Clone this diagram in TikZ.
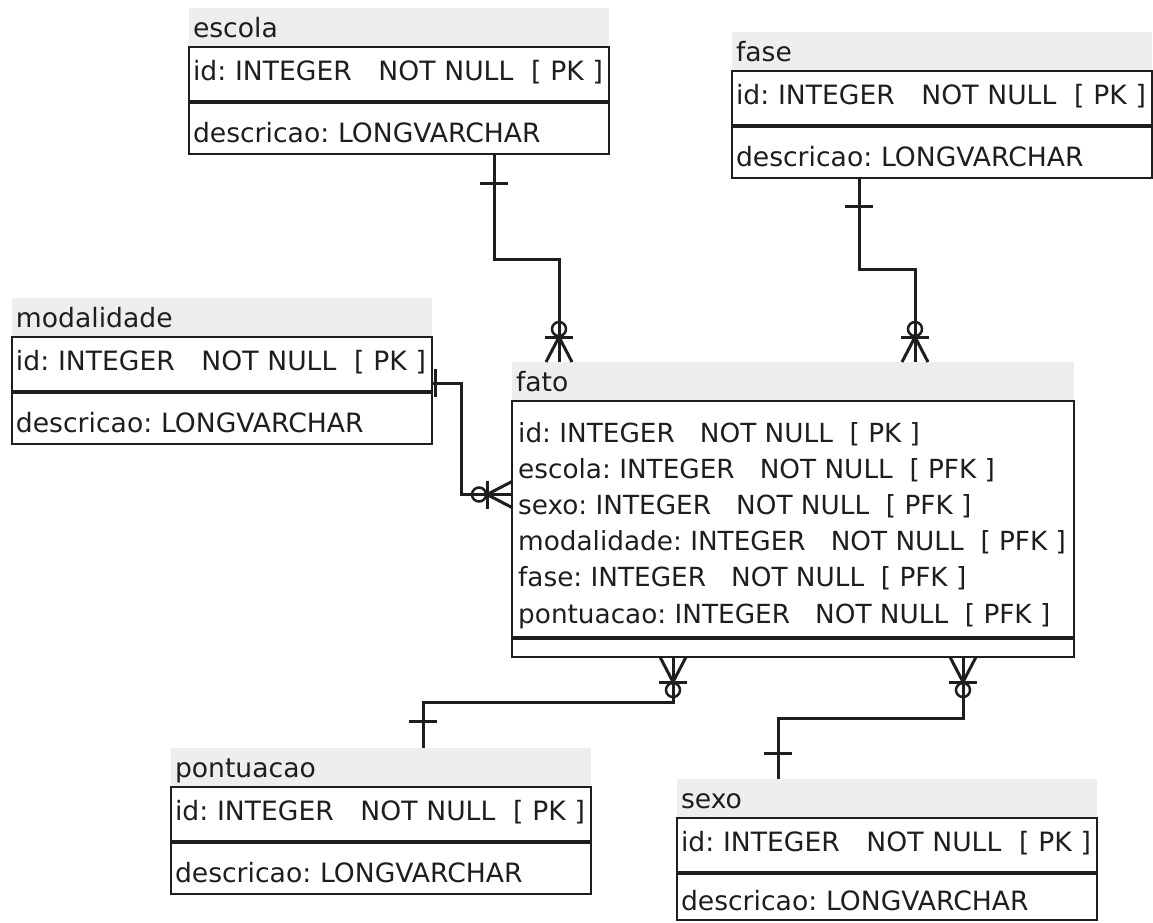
\documentclass[tikz,border=0pt]{standalone}
\usepackage{fontspec}
\setmainfont{DejaVu Sans}
\usepackage{xcolor}
\usepackage{tikz}
\usetikzlibrary{positioning}

\definecolor{headgray}{HTML}{EEEEEE}
\definecolor{inkgray}{HTML}{1E1E1E}

\newcommand{\tabfont}{\fontsize{26.6}{36.2}\selectfont\frenchspacing}
\newcommand{\factfont}{\fontsize{26.3}{36.2}\selectfont\frenchspacing}

\tikzset{
    tabhead/.style={fill=headgray, anchor=north west, text width=412pt,
        inner xsep=4pt, inner ysep=0pt, outer sep=0pt, minimum height=39pt,
        text height=20pt, text depth=1pt, align=left, font=\tabfont, text=inkgray},
    tabrow/.style={draw=inkgray, line width=2pt, text width=412pt,
        inner xsep=4pt, inner ysep=0pt, outer sep=0pt, align=left,
        font=\tabfont, text=inkgray},
    keyrow/.style={tabrow, minimum height=55pt, text height=20pt, text depth=9pt},
    descrow/.style={tabrow, minimum height=52pt, text height=28pt, text depth=0pt},
    sepline/.style={draw=inkgray, line width=4pt},
    link/.style={draw=inkgray, line width=3pt},
    pics/onebar/.style={code={\draw[link] (-14,-#1) -- (14,-#1);}},
    pics/crowopt/.style={code={
        \draw[link] (-13,0) -- (0,-25) -- (13,0);
        \draw[link] (-14,-25) -- (14,-25);
        \draw[inkgray, line width=2.5pt] (0,-33) circle (7);
    }}
}

\begin{document}
\begin{tikzpicture}[x=1pt, y=-1pt]

% Page frame
\useasboundingbox (0,0) rectangle (1153,922);

% Dimension tables
\foreach \name/\px/\py/\dh in {escola/189/8/52, fase/732/32/52,
    modalidade/12/298/52, pontuacao/171/748/52, sexo/677/779/47} {
    \node[tabhead] (\name) at (\px,\py) {\name};
    \node[keyrow, below=0pt of \name] (\name-id)
        {\mbox{id: INTEGER\ \ \ NOT NULL\ \ [ PK ]}};
    \node[descrow, minimum height=\dh pt, below=0pt of \name-id] (\name-desc)
        {descricao: LONGVARCHAR};
    \draw[sepline] (\name-id.south west) -- (\name-id.south east);
}

% Fact table
\node[tabhead, text width=554pt] (fato) at (512,362) {fato};
\node[tabrow, text width=554pt, minimum height=237pt, below=0pt of fato] (fato-body) {};
\node[tabrow, text width=554pt, minimum height=19pt, below=0pt of fato-body] (fato-foot) {};
\draw[sepline] (fato-body.south west) -- (fato-body.south east);
\node[anchor=north west, inner sep=0pt, align=left, font=\factfont, text=inkgray]
    (fato-cols) at ([shift={(6,21)}]fato-body.north west)
    {id: INTEGER\ \ \ NOT NULL\ \ [ PK ]\\
     escola: INTEGER\ \ \ NOT NULL\ \ [ PFK ]\\
     sexo: INTEGER\ \ \ NOT NULL\ \ [ PFK ]\\
     modalidade: INTEGER\ \ \ NOT NULL\ \ [ PFK ]\\
     fase: INTEGER\ \ \ NOT NULL\ \ [ PFK ]\\
     pontuacao: INTEGER\ \ \ NOT NULL\ \ [ PFK ]};

% escola -> fato
\coordinate (escola-out) at ([xshift=305pt]escola-desc.south west);
\coordinate (fato-in1) at ([xshift=47pt]fato.north west);
\draw[link] (escola-out) -- ++(0,105) -| (fato-in1);
\pic[rotate=180] at (escola-out) {onebar=29};
\pic at (fato-in1) {crowopt};

% fase -> fato
\coordinate (fase-out) at ([xshift=127pt]fase-desc.south west);
\coordinate (fato-in2) at ([xshift=403pt]fato.north west);
\draw[link] (fase-out) -- ++(0,91) -| (fato-in2);
\pic[rotate=180] at (fase-out) {onebar=28};
\pic at (fato-in2) {crowopt};

% modalidade -> fato
\coordinate (modalidade-out) at ([yshift=-18.5pt]modalidade-id.east);
\coordinate (fato-in3) at ([yshift=25pt]fato-body.west);
\draw[link] (modalidade-out) -- ++(29,0) |- (fato-in3);
\pic[rotate=-90] at (modalidade-out) {onebar=3};
\pic[rotate=90] at (fato-in3) {crowopt};

% fato -> pontuacao
\coordinate (fato-out1) at ([xshift=161pt]fato-foot.south west);
\coordinate (pontuacao-in) at ([xshift=252pt]pontuacao.north west);
\draw[link] (fato-out1) -- ++(0,45) -| (pontuacao-in);
\pic[rotate=180] at (fato-out1) {crowopt};
\pic at (pontuacao-in) {onebar=27};

% fato -> sexo
\coordinate (fato-out2) at ([xshift=451pt]fato-foot.south west);
\coordinate (sexo-in) at ([xshift=101pt]sexo.north west);
\draw[link] (fato-out2) -- ++(0,61) -| (sexo-in);
\pic[rotate=180] at (fato-out2) {crowopt};
\pic at (sexo-in) {onebar=26};

\end{tikzpicture}
\end{document}
